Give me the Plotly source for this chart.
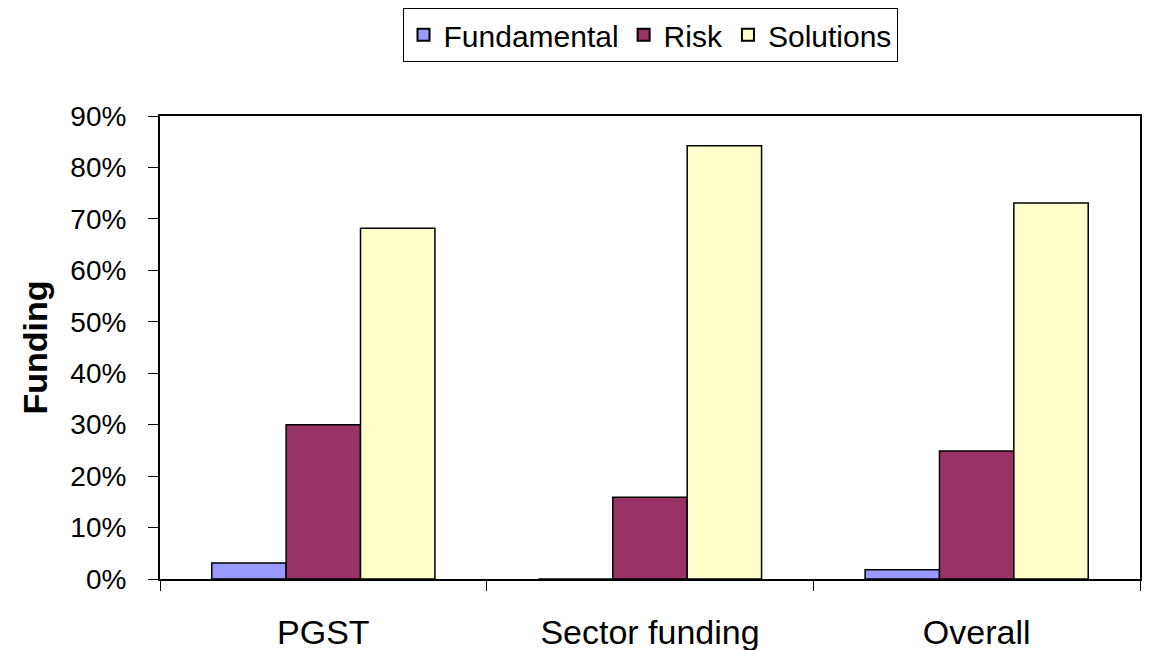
import plotly.graph_objects as go

categories = ["PGST", "Sector funding", "Overall"]
fundamental = [0.031, 0.0, 0.018]
risk = [0.30, 0.159, 0.249]
solutions = [0.682, 0.842, 0.731]
series_names = ["Fundamental", "Risk", "Solutions"]
colors = ["#9999FF", "#993366", "#FFFFCC"]
y_ticks = [0, 0.1, 0.2, 0.3, 0.4, 0.5, 0.6, 0.7, 0.8, 0.9]

font_family = "Liberation Sans, Arial, sans-serif"

fig = go.Figure()
for name, vals, col in zip(series_names, [fundamental, risk, solutions], colors):
    fig.add_trace(go.Bar(
        name=name, x=categories, y=vals,
        marker=dict(color=col, line=dict(color="black", width=1.5)),
    ))

fig.update_layout(
    width=1149, height=650,
    margin=dict(l=160, r=9, t=116, b=71),
    paper_bgcolor="white", plot_bgcolor="white",
    barmode="group", bargap=0.317, bargroupgap=0,
    font=dict(family=font_family, color="black"),
    showlegend=True,
    legend=dict(
        orientation="h", x=0.5, xanchor="center", xref="paper",
        y=0.988, yref="container", yanchor="top",
        font=dict(size=30, family=font_family),
        bordercolor="black", borderwidth=1,
        itemsizing="constant", traceorder="normal",
        tracegroupgap=0,
    ),
    xaxis=dict(
        automargin=False,
        showline=True, linecolor="black", linewidth=2, mirror=True,
        ticks="outside", tickson="boundaries", ticklen=10, tickcolor="black", tickwidth=1,
        tickfont=dict(size=34, family=font_family),
        ticklabelstandoff=22,
        showgrid=False,
    ),
    yaxis=dict(
        automargin=False,
        range=[0, 0.9], tickvals=y_ticks, tickformat=".0%",
        showline=True, linecolor="black", linewidth=2, mirror=True,
        ticks="outside", ticklen=10, tickcolor="black", tickwidth=1,
        tickfont=dict(size=28, family=font_family),
        ticklabelstandoff=16,
        showgrid=False, zeroline=False,
        title=dict(text="<b>Funding</b>", font=dict(size=34, family=font_family), standoff=12),
    ),
)

fig.write_html("out.html")
